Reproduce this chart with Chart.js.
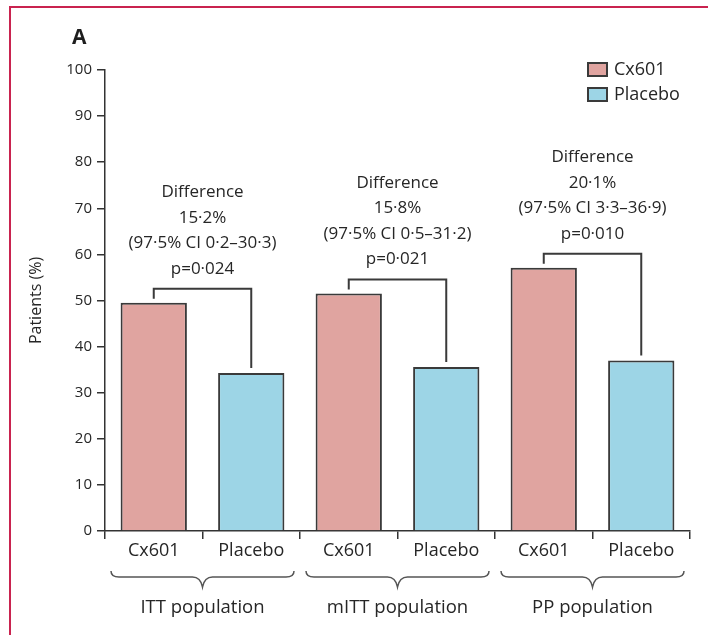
<!DOCTYPE html>
<html><head><meta charset="utf-8">
<script src="https://cdn.jsdelivr.net/npm/chart.js@4.4.1/dist/chart.umd.min.js"></script>
<style>html,body{margin:0;padding:0;background:#fff;} canvas{display:block;}</style>
</head><body>
<canvas id="c" width="708" height="635"></canvas>
<script>
const panelLabel = "A";
const arms = ["Cx601", "Placebo"];
const groups = ["ITT population", "mITT population", "PP population"];
const cx601Values = [49.5, 51.5, 57.1];
const placeboValues = [34.3, 35.6, 37.0];
const diffLabels = ["15·2%", "15·8%", "20·1%"];
const ciLabels = ["(97·5% CI 0·2–30·3)", "(97·5% CI 0·5–31·2)", "(97·5% CI 3·3–36·9)"];
const pLabels = ["p=0·024", "p=0·021", "p=0·010"];
const yAxisTitle = "Patients (%)";

const categories = groups.flatMap(() => arms);
const cxData = groups.flatMap((g, i) => [cx601Values[i], null]);
const plData = groups.flatMap((g, i) => [null, placeboValues[i]]);

const FONT = "'Open Sans'";
const TXT = "#262626";
const LINE = "#3a3a3a";

const decor = {
  id: "decor",
  beforeDraw(chart) {
    const ctx = chart.ctx;
    ctx.save();
    ctx.strokeStyle = "#c9234f";
    ctx.lineWidth = 2;
    ctx.beginPath();
    ctx.moveTo(10, 635); ctx.lineTo(10, 7); ctx.lineTo(708, 7);
    ctx.stroke();
    ctx.fillStyle = "#1e1e1e";
    ctx.font = "bold 21px " + FONT;
    ctx.textBaseline = "middle";
    ctx.textAlign = "left";
    ctx.fillText(panelLabel, 72, 38);
    ctx.restore();
  },
  afterDatasetsDraw(chart) {
    const ctx = chart.ctx;
    const m0 = chart.getDatasetMeta(0), m1 = chart.getDatasetMeta(1);
    ctx.save();
    groups.forEach((g, i) => {
      const b0 = m0.data[2 * i], b1 = m1.data[2 * i + 1];
      const hy = Math.min(b0.y, b1.y) - 14;
      ctx.strokeStyle = LINE;
      ctx.lineWidth = 2;
      ctx.beginPath();
      ctx.moveTo(b0.x, b0.y - 4);
      ctx.lineTo(b0.x, hy);
      ctx.lineTo(b1.x, hy);
      ctx.lineTo(b1.x, b1.y - 5);
      ctx.stroke();
      const cx = (b0.x + b1.x) / 2;
      const lines = ["Difference", diffLabels[i], ciLabels[i], pLabels[i]];
      ctx.fillStyle = TXT;
      ctx.font = "17px " + FONT;
      ctx.textAlign = "center";
      ctx.textBaseline = "middle";
      lines.forEach((t, k) => {
        ctx.fillText(t, cx, hy - 20 - (lines.length - 1 - k) * 25.5);
      });
    });
    ctx.restore();
  },
  afterDraw(chart) {
    const ctx = chart.ctx;
    const xs = chart.scales.x;
    const ca = chart.chartArea;
    ctx.save();
    const half = (xs.getPixelForValue(1) - xs.getPixelForValue(0)) / 2;
    const top = xs.top + 40, mid = xs.top + 46, tip = xs.top + 56;
    groups.forEach((g, i) => {
      const L = xs.getPixelForValue(2 * i) - half + 6;
      const R = xs.getPixelForValue(2 * i + 1) + half - 6;
      const C = (L + R) / 2;
      ctx.strokeStyle = "#555";
      ctx.lineWidth = 1.5;
      ctx.beginPath();
      ctx.moveTo(L, top);
      ctx.quadraticCurveTo(L, mid, L + 8, mid);
      ctx.lineTo(C - 10, mid);
      ctx.quadraticCurveTo(C - 2, mid, C, tip);
      ctx.quadraticCurveTo(C + 2, mid, C + 10, mid);
      ctx.lineTo(R - 8, mid);
      ctx.quadraticCurveTo(R, mid, R, top);
      ctx.stroke();
      ctx.fillStyle = TXT;
      ctx.font = "18.5px " + FONT;
      ctx.textAlign = "center";
      ctx.textBaseline = "middle";
      ctx.fillText(g, C, xs.top + 77);
    });
    // legend
    const datasets = chart.data.datasets;
    datasets.forEach((ds, k) => {
      const bx = ca.right - 102, by = ca.top - 7 + k * 25;
      ctx.fillStyle = ds.backgroundColor;
      ctx.fillRect(bx, by, 19, 13);
      ctx.strokeStyle = LINE;
      ctx.lineWidth = 2;
      ctx.strokeRect(bx, by, 19, 13);
      ctx.fillStyle = TXT;
      ctx.font = "18px " + FONT;
      ctx.textAlign = "left";
      ctx.textBaseline = "middle";
      ctx.fillText(ds.label, bx + 26, by + 7);
    });
    ctx.restore();
  }
};

new Chart(document.getElementById("c"), {
  type: "bar",
  data: {
    labels: categories,
    datasets: [
      { label: arms[0], data: cxData, backgroundColor: "#e0a4a0", borderColor: LINE, borderWidth: 2, borderSkipped: "bottom" },
      { label: arms[1], data: plData, backgroundColor: "#9dd5e6", borderColor: LINE, borderWidth: 2, borderSkipped: "bottom" }
    ]
  },
  options: {
    responsive: false,
    animation: false,
    skipNull: true,
    categoryPercentage: 1,
    barPercentage: 0.68,
    layout: { padding: { top: 70, right: 18, left: 0, bottom: 0 } },
    plugins: { legend: { display: false }, tooltip: { enabled: false } },
    scales: {
      x: {
        afterFit(s) { s.height = 104; },
        grid: { offset: true, drawOnChartArea: false, tickLength: 8, color: "#333", lineWidth: 1.5 },
        border: { color: "#333", width: 1.5 },
        ticks: { color: TXT, font: { family: FONT, size: 18 }, padding: 1 }
      },
      y: {
        min: 0, max: 100,
        afterFit(s) { s.width = 105; },
        grid: { drawOnChartArea: false, tickLength: 8, color: "#333", lineWidth: 1.5 },
        border: { color: "#333", width: 1.5 },
        ticks: { stepSize: 10, color: TXT, font: { family: FONT, size: 15 }, padding: 5 },
        title: { display: true, text: yAxisTitle, color: TXT, font: { family: FONT, size: 16 }, padding: { top: 27, bottom: 0 } }
      }
    }
  },
  plugins: [decor]
});
</script>
</body></html>
